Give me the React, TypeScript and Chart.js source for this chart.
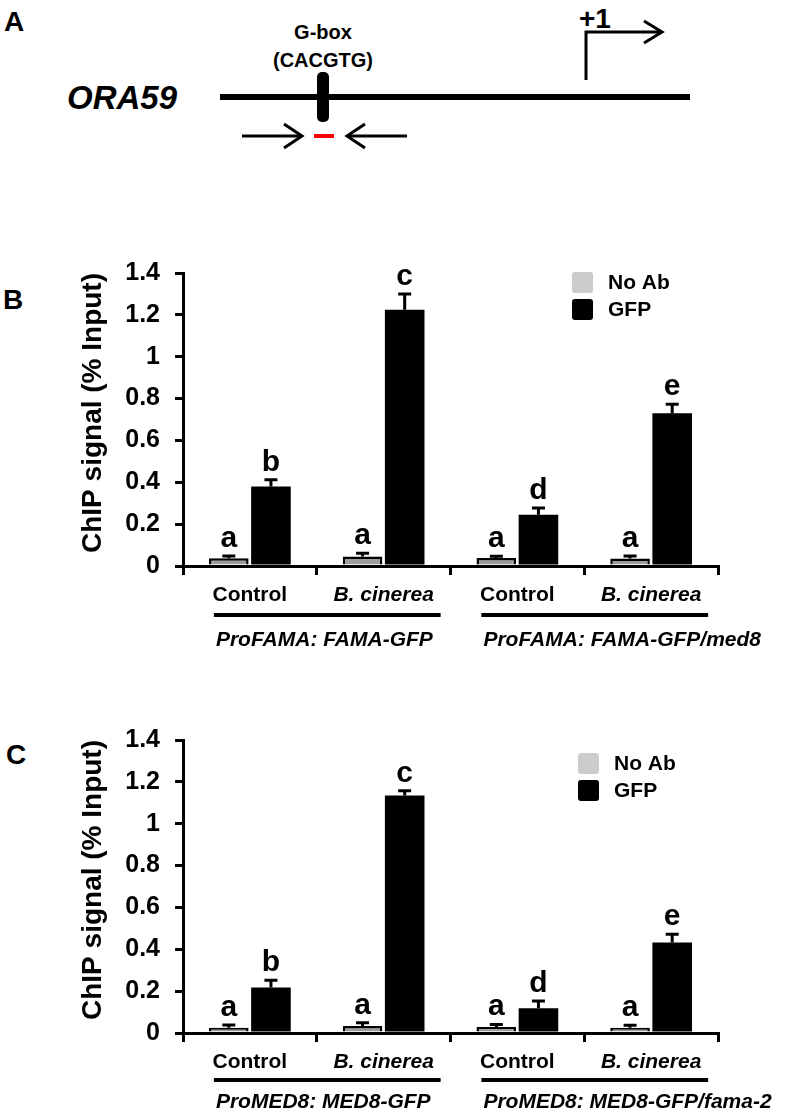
import React, { useEffect, useRef } from 'react';
import { Chart, registerables } from 'chart.js';

Chart.register(...registerables);

// ---------- data ----------
const categories = ['Control', 'B. cinerea', 'Control', 'B. cinerea'];
const italicCategory = [false, true, false, true];
const seriesNames = ['No Ab', 'GFP'];
const yTickLabels = ['0', '0.2', '0.4', '0.6', '0.8', '1', '1.2', '1.4'];

// Panel B
const bNoAb = [0.037, 0.045, 0.038, 0.036];
const bNoAbErr = [0.011, 0.016, 0.008, 0.012];
const bGFP = [0.38, 1.225, 0.245, 0.73];
const bGFPErr = [0.032, 0.075, 0.032, 0.043];
const bNoAbLetters = ['a', 'a', 'a', 'a'];
const bGFPLetters = ['b', 'c', 'd', 'e'];
const bGroups = ['ProFAMA: FAMA-GFP', 'ProFAMA: FAMA-GFP/med8'];

// Panel C
const cNoAb = [0.025, 0.033, 0.029, 0.025];
const cNoAbErr = [0.013, 0.016, 0.012, 0.012];
const cGFP = [0.217, 1.135, 0.118, 0.432];
const cGFPErr = [0.035, 0.022, 0.035, 0.04];
const cNoAbLetters = ['a', 'a', 'a', 'a'];
const cGFPLetters = ['b', 'c', 'd', 'e'];
const cGroups = ['ProMED8: MED8-GFP', 'ProMED8: MED8-GFP/fama-2'];

const FONT = '"Liberation Sans", Arial, Helvetica, sans-serif';

const panelPlugin = {
  id: 'panelExtras',
  afterDatasetsDraw(chart: any) {
    const { ctx } = chart;
    const y = chart.scales.y;
    chart.data.datasets.forEach((ds: any, di: number) => {
      const meta = chart.getDatasetMeta(di);
      meta.data.forEach((el: any, i: number) => {
        const top = y.getPixelForValue(ds.data[i] + ds.errors[i]);
        ctx.save();
        ctx.strokeStyle = '#000';
        ctx.lineWidth = 3;
        ctx.beginPath();
        ctx.moveTo(el.x, el.y);
        ctx.lineTo(el.x, top);
        ctx.moveTo(el.x - 6.5, top);
        ctx.lineTo(el.x + 6.5, top);
        ctx.stroke();
        ctx.fillStyle = '#000';
        ctx.font = `bold 30px ${FONT}`;
        ctx.textAlign = 'center';
        ctx.textBaseline = 'alphabetic';
        ctx.fillText(ds.letters[i], el.x, top - 9);
        ctx.restore();
      });
    });
  },
  afterDraw(chart: any, _args: any, opts: any) {
    const { ctx, chartArea } = chart;
    const x = chart.scales.x;
    const bottom = chartArea.bottom;
    ctx.save();
    // group underlines + labels
    opts.groups.forEach((g: string, gi: number) => {
      const x0 = x.getPixelForValue(gi * 2) - 36;
      const x1 = x.getPixelForValue(gi * 2 + 1) + 57;
      ctx.strokeStyle = '#000';
      ctx.lineWidth = 4;
      ctx.beginPath();
      ctx.moveTo(x0, bottom + opts.underlineOffset);
      ctx.lineTo(x1, bottom + opts.underlineOffset);
      ctx.stroke();
      ctx.fillStyle = '#000';
      ctx.font = `italic bold 21px ${FONT}`;
      ctx.textAlign = 'left';
      ctx.textBaseline = 'middle';
      ctx.fillText(g, x0 + 2, bottom + opts.groupOffset);
    });
    // legend
    const colors = ['#cccccc', '#000000'];
    seriesNames.forEach((name, i) => {
      const lx = chartArea.left + opts.legendX;
      const ly = chartArea.top + opts.legendY + i * 27;
      ctx.fillStyle = colors[i];
      ctx.beginPath();
      (ctx as any).roundRect(lx, ly, 21, 21, 3);
      ctx.fill();
      ctx.fillStyle = '#000';
      ctx.font = `bold 21px ${FONT}`;
      ctx.textAlign = 'left';
      ctx.textBaseline = 'middle';
      ctx.fillText(name, lx + 36, ly + 11);
    });
    ctx.restore();
  },
};

function buildConfig(
  noAb: number[], noAbErr: number[], noAbLetters: string[],
  gfp: number[], gfpErr: number[], gfpLetters: string[],
  groups: string[], axisH: number, extra: any
): any {
  return {
    type: 'bar',
    data: {
      labels: categories,
      datasets: [
        {
          label: seriesNames[0], data: noAb, errors: noAbErr, letters: noAbLetters,
          backgroundColor: '#9c9c9c', borderColor: '#000', borderWidth: 2.5,
          categoryPercentage: 0.63, barPercentage: 0.94,
        },
        {
          label: seriesNames[1], data: gfp, errors: gfpErr, letters: gfpLetters,
          backgroundColor: '#000', borderColor: '#000', borderWidth: 0,
          categoryPercentage: 0.63, barPercentage: 0.94,
        },
      ],
    },
    options: {
      responsive: false,
      animation: false,
      devicePixelRatio: 1,
      layout: { padding: { top: 43, right: 68, left: 70, bottom: 0 } },
      plugins: {
        legend: { display: false },
        tooltip: { enabled: false },
        panelExtras: { groups, ...extra },
      },
      scales: {
        x: {
          type: 'category',
          offset: true,
          afterFit: (s: any) => { s.height = axisH; },
          grid: { offset: true, drawOnChartArea: false, drawTicks: true, tickLength: 9, lineWidth: 3, color: '#000' },
          border: { display: true, width: 3, color: '#000' },
          ticks: {
            color: '#000', padding: 8, maxRotation: 0, autoSkip: false,
            font: (c: any) => ({ family: FONT, size: 21, weight: 'bold', style: italicCategory[c.index] ? 'italic' : 'normal' }),
          },
        },
        y: {
          min: 0, max: 1.4,
          afterFit: (s: any) => { s.width = 113; },
          grid: { drawOnChartArea: false, drawTicks: true, tickLength: 8, lineWidth: 3, color: '#000' },
          border: { display: true, width: 3, color: '#000' },
          ticks: {
            stepSize: 0.2, color: '#000', padding: 15,
            font: { family: FONT, size: 25, weight: 'bold' },
            callback: (v: number) => yTickLabels[Math.round(v / 0.2)],
          },
          title: {
            display: true, text: 'ChIP signal (% Input)', color: '#000', align: 'end',
            font: { family: FONT, size: 28, weight: 'bold' },
            padding: { top: 6, bottom: 0 },
          },
        },
      },
    },
    plugins: [panelPlugin],
  };
}

function ChartCanvas({ config, top, height }: { config: any; top: number; height: number }) {
  const ref = useRef<HTMLCanvasElement | null>(null);
  useEffect(() => {
    if (!ref.current) return;
    const chart = new Chart(ref.current, config);
    return () => chart.destroy();
  }, [config]);
  return (
    <canvas
      ref={ref}
      width={786}
      height={height}
      style={{ position: 'absolute', left: 0, top, width: 786, height }}
    />
  );
}

const configB = buildConfig(bNoAb, bNoAbErr, bNoAbLetters, bGFP, bGFPErr, bGFPLetters, bGroups, 94,
  { underlineOffset: 49, groupOffset: 74, legendX: 389, legendY: -1 });
const configC = buildConfig(cNoAb, cNoAbErr, cNoAbLetters, cGFP, cGFPErr, cGFPLetters, cGroups, 82,
  { underlineOffset: 47, groupOffset: 69, legendX: 395, legendY: 13 });

export default function App() {
  return (
    <div style={{ position: 'relative', width: 786, height: 1115, overflow: 'hidden', background: '#fff' }}>
      <style>{'html,body{margin:0;padding:0;overflow:hidden;background:#fff}'}</style>
      <svg width={786} height={1115} style={{ position: 'absolute', left: 0, top: 0 }} fontFamily={FONT}>
        <text x={4} y={31} fontSize={28} fontWeight="bold">A</text>
        <text x={67} y={109} fontSize={33} fontWeight="bold" fontStyle="italic">ORA59</text>
        <line x1={220} y1={97} x2={690} y2={97} stroke="#000" strokeWidth={6} />
        <rect x={317} y={72} width={12} height={50} rx={5} fill="#000" />
        <text x={323} y={39} fontSize={20} fontWeight="bold" textAnchor="middle">G-box</text>
        <text x={323} y={67} fontSize={20} fontWeight="bold" textAnchor="middle">(CACGTG)</text>
        <line x1={242} y1={136} x2={301} y2={136} stroke="#000" strokeWidth={3} />
        <polyline points="284,124 302,136 284,148" fill="none" stroke="#000" strokeWidth={3} />
        <line x1={314} y1={136} x2={334} y2={136} stroke="#ff0000" strokeWidth={4} />
        <line x1={348} y1={136} x2={407} y2={136} stroke="#000" strokeWidth={3} />
        <polyline points="365,124 347,136 365,148" fill="none" stroke="#000" strokeWidth={3} />
        <polyline points="586,80 586,32 661,32" fill="none" stroke="#000" strokeWidth={3} />
        <polyline points="644,21 662,32 644,43" fill="none" stroke="#000" strokeWidth={3} />
        <text x={579} y={28} fontSize={28} fontWeight="bold">+1</text>
        <text x={3} y={309} fontSize={28} fontWeight="bold">B</text>
        <text x={6} y={764} fontSize={28} fontWeight="bold">C</text>
      </svg>
      <ChartCanvas config={configB} top={230} height={430} />
      <ChartCanvas config={configC} top={697} height={418} />
    </div>
  );
}
